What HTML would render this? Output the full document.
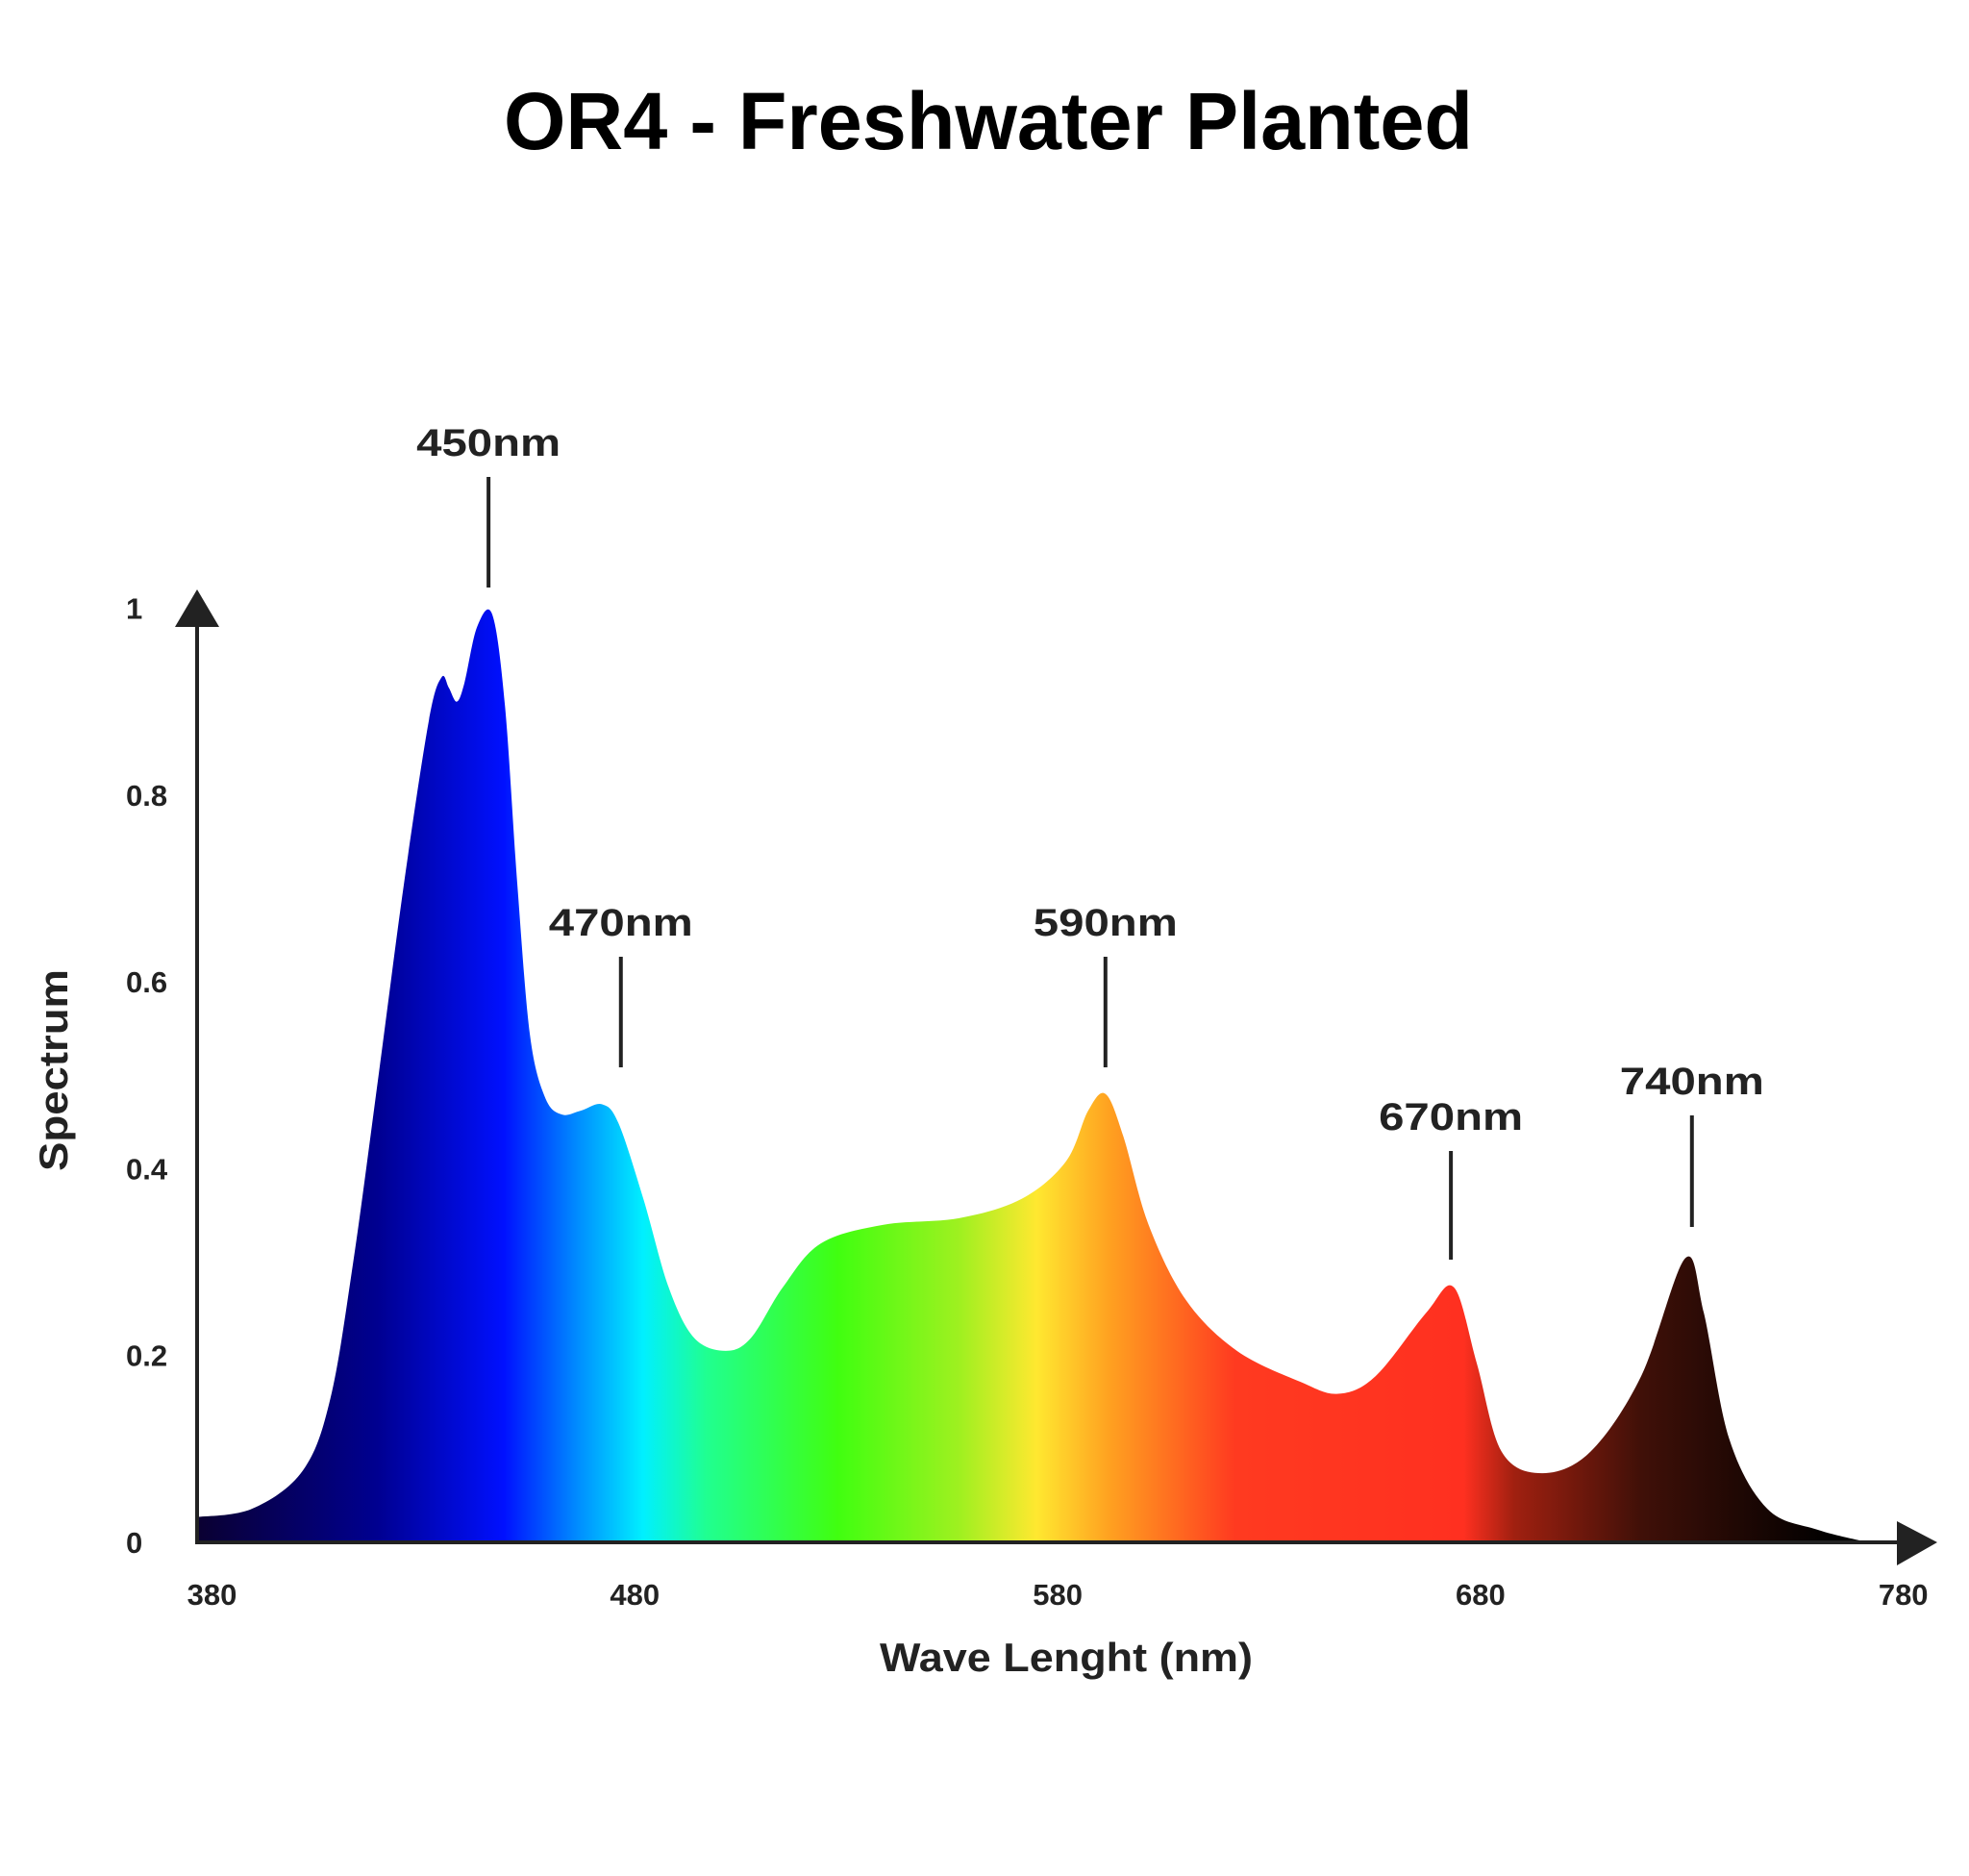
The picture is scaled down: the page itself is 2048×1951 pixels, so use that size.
<!DOCTYPE html>
<html><head><meta charset="utf-8"><style>
html,body{margin:0;padding:0;background:#fff;}
svg{display:block;font-family:"Liberation Sans",sans-serif;}
</style></head><body>
<svg id="chart" width="2048" height="1951" viewBox="0 0 2048 1951" xmlns="http://www.w3.org/2000/svg">
<defs>
<linearGradient id="spec" gradientUnits="userSpaceOnUse" x1="0" y1="0" x2="2048" y2="0"></linearGradient>
</defs>
<text x="1028" y="155" text-anchor="middle" font-size="84" font-weight="bold" textLength="1008" lengthAdjust="spacingAndGlyphs" fill="#000">OR4 - Freshwater Planted</text>
<g id="area"></g>
<g id="axes"></g>
<g id="annots"></g>
</svg>
<script>
const wavelengths=[376.4,389.5,401.5,408,413.4,419.4,425.4,431.3,434.3,436,437.9,439.7,442.7,446.3,449.3,452.2,455.2,458.8,462.7,467.2,472.2,476.1,482,488,494,501.5,507.5,515,524,538.8,556.7,571.6,582,587.2,591.3,595.5,601.5,610.4,622.4,637.3,646.3,655.2,667.2,673.7,679.1,685,694.6,706,718,728.4,732.8,738.8,747.8,759.7,771.6];
const spectrum=[0.027,0.036,0.077,0.154,0.30,0.50,0.705,0.88,0.926,0.915,0.90,0.92,0.98,0.993,0.895,0.705,0.543,0.476,0.458,0.462,0.469,0.449,0.368,0.273,0.219,0.205,0.219,0.273,0.32,0.34,0.347,0.368,0.408,0.462,0.48,0.435,0.34,0.259,0.205,0.172,0.159,0.178,0.246,0.273,0.192,0.097,0.074,0.097,0.178,0.304,0.246,0.111,0.036,0.0135,0];
const xTicks=[380,480,580,680,780];
const yTicks=[0,0.2,0.4,0.6,0.8,1];
const yTickLabels=["0","0.2","0.4","0.6","0.8","1"];
const peakLabels=["450nm","470nm","590nm","670nm","740nm"];
const peakPositions=[445.4,476.7,591.3,673,730];
const colorStopsNm=[376,419,449,467,482,497,528,557,575,592.5,622,676,688,718,763];
const colorStops=["#0a0030","#000090","#0010ff","#0090ff","#00f0ff","#20ff90","#40ff10","#a0f020","#ffe830","#ffa020","#ff3a20","#ff3020","#a02010","#401008","#000000"];
const NS="http://www.w3.org/2000/svg";
function x(nm){return 220.5+(nm-380)*4.398;}
function y(v){return 1604-v*971.5;}
function mk(t,a,p){const e=document.createElementNS(NS,t);for(const k in a)e.setAttribute(k,a[k]);p.appendChild(e);return e;}
// gradient
const grad=document.getElementById('spec');
colorStopsNm.forEach((nm,i)=>{const s=mk('stop',{offset:(x(nm)/2048).toFixed(4),'stop-color':colorStops[i]},grad);});
// area path (Catmull-Rom)
const pts=wavelengths.map((w,i)=>[x(w),y(spectrum[i])]);
let d=`M${x(wavelengths[0])},${y(0)} L${pts[0][0]},${pts[0][1]}`;
for(let i=0;i<pts.length-1;i++){const p0=pts[i-1]||pts[i],p1=pts[i],p2=pts[i+1],p3=pts[i+2]||p2;
const c1=[p1[0]+(p2[0]-p0[0])/6,p1[1]+(p2[1]-p0[1])/6],c2=[p2[0]-(p3[0]-p1[0])/6,p2[1]-(p3[1]-p1[1])/6];
d+=` C${c1[0]},${Math.min(c1[1],y(0))} ${c2[0]},${Math.min(c2[1],y(0))} ${p2[0]},${p2[1]}`;}
d+=` L${pts[pts.length-1][0]},${y(0)} Z`;
const area=mk('path',{d:d,fill:'url(#spec)'},document.getElementById('area'));


// axes
const ax=document.getElementById('axes');
const xl=mk('line',{x1:205,y1:y(0),x2:1980,y2:y(0),stroke:'#222','stroke-width':4},ax);


const xa=mk('polygon',{points:`1973,1582 2015,1604 1973,1628`,fill:'#222'},ax);


const yl=mk('line',{x1:205,y1:y(0)+2,x2:205,y2:645,stroke:'#222','stroke-width':4},ax);


const ya=mk('polygon',{points:`182,652 205,613 228,652`,fill:'#222'},ax);


xTicks.forEach(t=>{const e=mk('text',{x:x(t),y:1669,'text-anchor':'middle','font-size':31,'font-weight':'bold',fill:'#222'},ax);e.textContent=t;

});
yTicks.forEach((t,i)=>{const e=mk('text',{x:131,y:y(t)+11,'font-size':31,'font-weight':'bold',fill:'#222'},ax);e.textContent=yTickLabels[i];

});
const xt=mk('text',{x:1109,y:1738,'text-anchor':'middle','font-size':42,'font-weight':'bold',fill:'#222',textLength:388,lengthAdjust:'spacingAndGlyphs'},ax);xt.textContent='Wave Lenght (nm)';


const yt=mk('text',{x:0,y:0,'text-anchor':'middle','font-size':42,'font-weight':'bold',fill:'#222',transform:'translate(70,1113) rotate(-90)',textLength:210,lengthAdjust:'spacingAndGlyphs'},ax);yt.textContent='Spectrum';


// annotations
const an=document.getElementById('annots');
const annotTop=[496,995,995,1197,1160];
const annotBottom=[611,1110,1110,1310,1276];
peakLabels.forEach((lab,i)=>{const px=x(peakPositions[i]);
const l=mk('line',{x1:px,y1:annotTop[i],x2:px,y2:annotBottom[i],stroke:'#222','stroke-width':4},an);


const t=mk('text',{x:px,y:annotTop[i]-22,'text-anchor':'middle','font-size':40,'font-weight':'bold',fill:'#222',textLength:150,lengthAdjust:'spacingAndGlyphs'},an);t.textContent=lab;

});
</script>
</body></html>
